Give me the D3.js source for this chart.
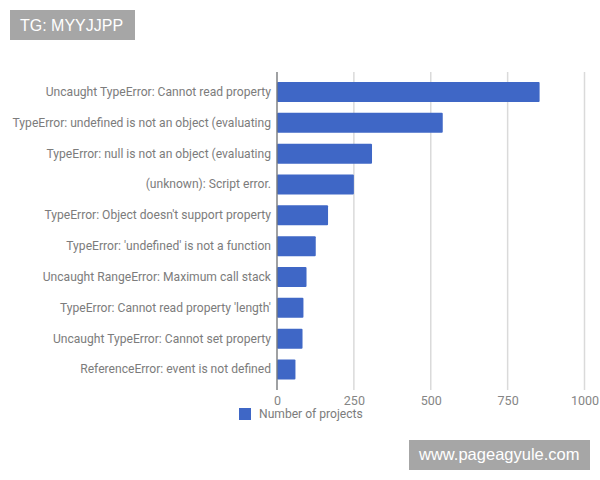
<!DOCTYPE html>
<html>
<head>
<meta charset="utf-8">
<script src="https://cdn.jsdelivr.net/npm/d3@7"></script>
<style>
    html, body { margin: 0; padding: 0; background: #fff; }
    svg { display: block; }
    text { font-family: Roboto, sans-serif; }
    .axis path, .axis line { display: none; }
</style>
</head>
<body>
<div id="chart"></div>
<script>
var categories = [
    "Uncaught TypeError: Cannot read property",
    "TypeError: undefined is not an object (evaluating",
    "TypeError: null is not an object (evaluating",
    "(unknown): Script error.",
    "TypeError: Object doesn't support property",
    "TypeError: 'undefined' is not a function",
    "Uncaught RangeError: Maximum call stack",
    "TypeError: Cannot read property 'length'",
    "Uncaught TypeError: Cannot set property",
    "ReferenceError: event is not defined"
];
var projects = [854, 539, 309, 250, 166, 126, 96, 86, 83, 60];
var xTicks = [0, 250, 500, 750, 1000];
var seriesName = "Number of projects";
var stampTop = "TG: MYYJJPP";
var stampBottom = "www.pageagyule.com";

var svgWidth = 600;
var svgHeight = 480;

var svg = d3.select("#chart")
    .append("svg")
    .attr("width", svgWidth)
    .attr("height", svgHeight);

// Scales
var xScale = d3.scaleLinear()
    .domain([0, 1000])
    .range([277, 584.5]);

var yScale = d3.scaleBand()
    .domain(categories)
    .range([76.6, 384.9])
    .paddingInner(0.35)
    .paddingOuter(0.175);

// Gridlines
svg.append("g")
    .selectAll("line")
    .data(xTicks.slice(1))
    .enter()
    .append("line")
    .attr("x1", d => xScale(d))
    .attr("x2", d => xScale(d))
    .attr("y1", 72)
    .attr("y2", 390)
    .attr("stroke", "#dadada")
    .attr("stroke-width", 1.5);

// Bars
svg.append("g")
    .selectAll("rect")
    .data(projects)
    .enter()
    .append("rect")
    .attr("x", xScale(0))
    .attr("y", (d, i) => yScale(categories[i]))
    .attr("width", d => xScale(d) - xScale(0))
    .attr("height", yScale.bandwidth())
    .attr("rx", 1)
    .attr("fill", "#3f67c6");

// Baseline
svg.append("line")
    .attr("x1", xScale(0))
    .attr("x2", xScale(0))
    .attr("y1", 72)
    .attr("y2", 390)
    .attr("stroke", "#77797c")
    .attr("stroke-width", 1.4);

// Axes
var bottomAxis = d3.axisBottom(xScale).tickValues(xTicks).tickSize(0).tickPadding(0).tickFormat(d3.format("d"));
var leftAxis = d3.axisLeft(yScale).tickSize(0).tickPadding(6);

svg.append("g")
    .attr("class", "axis")
    .attr("transform", "translate(0, 396)")
    .call(bottomAxis)
    .selectAll("text")
    .attr("fill", "#858585")
    .style("font-size", "12.5px");

svg.append("g")
    .attr("class", "axis")
    .attr("transform", "translate(277, 0)")
    .call(leftAxis)
    .selectAll("text")
    .attr("fill", "#7c7c7c")
    .style("font-size", "12.1px");

// Legend
svg.append("rect")
    .attr("x", 239)
    .attr("y", 408)
    .attr("width", 12)
    .attr("height", 12)
    .attr("fill", "#3f67c6");

svg.append("text")
    .attr("x", 259)
    .attr("y", 418)
    .attr("fill", "#7c7c7c")
    .style("font-size", "12.1px")
    .text(seriesName);

// Stamps
svg.append("rect")
    .attr("x", 10)
    .attr("y", 10)
    .attr("width", 125)
    .attr("height", 30)
    .attr("fill", "#a6a6a6");

svg.append("text")
    .attr("x", 20)
    .attr("y", 31)
    .attr("fill", "#fff")
    .style("font-family", "'Liberation Sans', sans-serif")
    .style("font-size", "16px")
    .text(stampTop);

svg.append("rect")
    .attr("x", 409)
    .attr("y", 440)
    .attr("width", 181)
    .attr("height", 30)
    .attr("fill", "#a6a6a6");

svg.append("text")
    .attr("x", 419)
    .attr("y", 460)
    .attr("fill", "#fff")
    .style("font-family", "'Liberation Sans', sans-serif")
    .style("font-size", "16.5px")
    .text(stampBottom);
</script>
</body>
</html>
